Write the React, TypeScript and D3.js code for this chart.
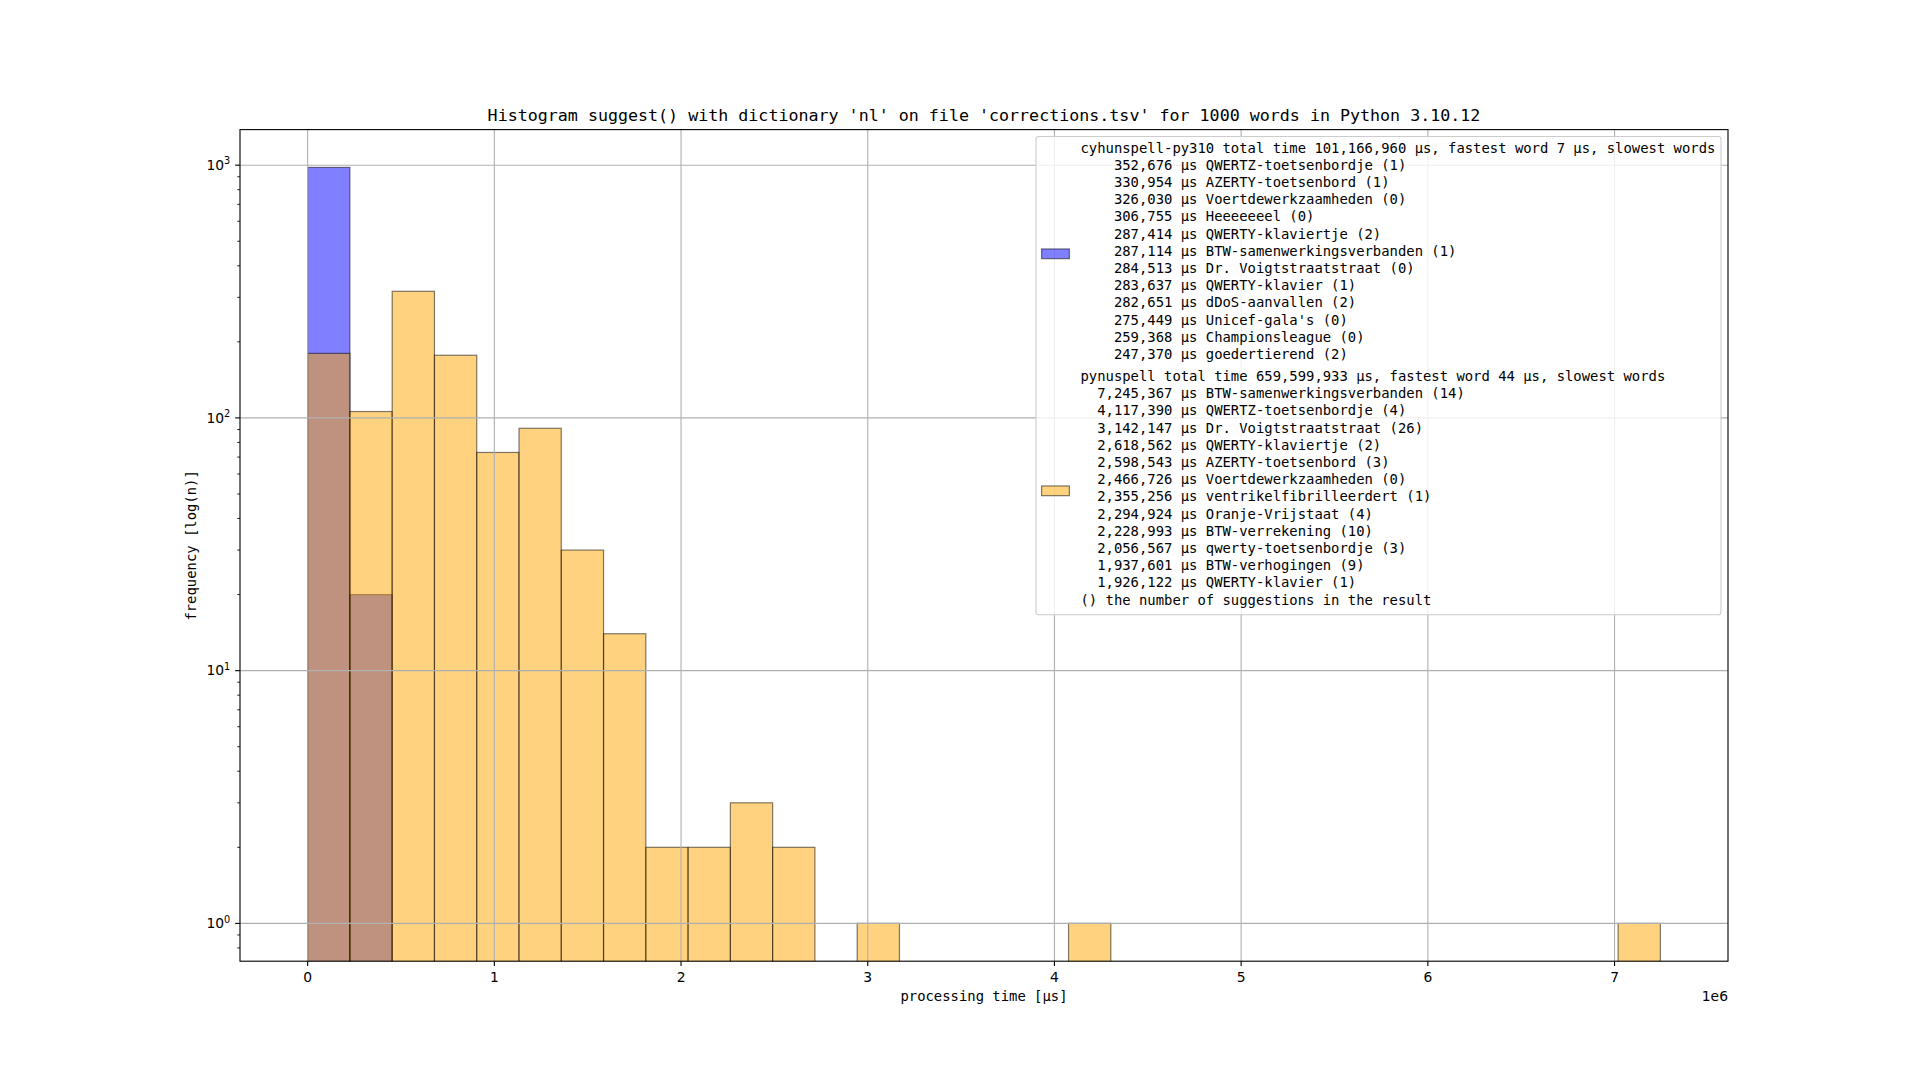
import React from "react";
import * as d3 from "d3";

// ---- data ----
const binCount = 32;
const dataMin = 7; // fastest word overall (µs)
const dataMax = 7245367; // slowest word overall (µs)
const cyhunspellCounts = [980, 20, 0, 0, 0, 0, 0, 0, 0, 0, 0, 0, 0, 0, 0, 0, 0, 0, 0, 0, 0, 0, 0, 0, 0, 0, 0, 0, 0, 0, 0, 0];
const pynuspellCounts = [180, 106, 317, 177, 73, 91, 30, 14, 2, 2, 3, 2, 0, 1, 0, 0, 0, 0, 1, 0, 0, 0, 0, 0, 0, 0, 0, 0, 0, 0, 0, 1];
const xTicks = [0, 1, 2, 3, 4, 5, 6, 7];
const yTickExps = [0, 1, 2, 3];

const titleText = "Histogram suggest() with dictionary 'nl' on file 'corrections.tsv' for 1000 words in Python 3.10.12";
const xLabel = "processing time [μs]";
const yLabel = "frequency [log(n)]";

const cyLegend = [
  "cyhunspell-py310 total time 101,166,960 μs, fastest word 7 μs, slowest words",
  "    352,676 μs QWERTZ-toetsenbordje (1)",
  "    330,954 μs AZERTY-toetsenbord (1)",
  "    326,030 μs Voertdewerkzaamheden (0)",
  "    306,755 μs Heeeeeeel (0)",
  "    287,414 μs QWERTY-klaviertje (2)",
  "    287,114 μs BTW-samenwerkingsverbanden (1)",
  "    284,513 μs Dr. Voigtstraatstraat (0)",
  "    283,637 μs QWERTY-klavier (1)",
  "    282,651 μs dDoS-aanvallen (2)",
  "    275,449 μs Unicef-gala's (0)",
  "    259,368 μs Championsleague (0)",
  "    247,370 μs goedertierend (2)",
];
const pyLegend = [
  "pynuspell total time 659,599,933 μs, fastest word 44 μs, slowest words",
  "  7,245,367 μs BTW-samenwerkingsverbanden (14)",
  "  4,117,390 μs QWERTZ-toetsenbordje (4)",
  "  3,142,147 μs Dr. Voigtstraatstraat (26)",
  "  2,618,562 μs QWERTY-klaviertje (2)",
  "  2,598,543 μs AZERTY-toetsenbord (3)",
  "  2,466,726 μs Voertdewerkzaamheden (0)",
  "  2,355,256 μs ventrikelfibrilleerdert (1)",
  "  2,294,924 μs Oranje-Vrijstaat (4)",
  "  2,228,993 μs BTW-verrekening (10)",
  "  2,056,567 μs qwerty-toetsenbordje (3)",
  "  1,937,601 μs BTW-verhogingen (9)",
  "  1,926,122 μs QWERTY-klavier (1)",
  "() the number of suggestions in the result",
];

// ---- layout ----
const W = 1920;
const H = 1080;
const L = 240;
const R = 1728;
const T = 129.6;
const B = 961.2;
const MONO = "'DejaVu Sans Mono', monospace";
const SANS = "'DejaVu Sans', sans-serif";
const FS = 13.89;

export default function App() {
  const edges = d3.range(binCount + 1).map((i) => dataMin + (i * (dataMax - dataMin)) / binCount);
  const span = dataMax - dataMin;
  const x = d3.scaleLinear().domain([dataMin - 0.05 * span, dataMax + 0.05 * span]).range([L, R]);

  const allCounts = [...cyhunspellCounts, ...pynuspellCounts].filter((c) => c > 0);
  const lo = Math.log10(d3.min(allCounts) as number);
  const hi = Math.log10(d3.max(allCounts) as number);
  const m = 0.05 * (hi - lo);
  const y = d3.scaleLog().domain([10 ** (lo - m), 10 ** (hi + m)]).range([B, T]);

  const minorTicks: number[] = [];
  for (let e = -1; e <= 3; e++) {
    for (let k = 2; k <= 9; k++) {
      const v = k * 10 ** e;
      if (v >= y.domain()[0] && v <= y.domain()[1]) minorTicks.push(v);
    }
  }

  const bars = (counts: number[], fill: string) =>
    counts.map((c, i) =>
      c > 0 ? (
        <rect
          key={i}
          x={x(edges[i])}
          y={y(c)}
          width={x(edges[i + 1]) - x(edges[i])}
          height={B + 5 - y(c)}
          fill={fill}
          fillOpacity={0.5}
          stroke="#000"
          strokeOpacity={0.5}
          strokeWidth={1.2}
        />
      ) : null
    );

  // legend
  const legTop = 136.5;
  const legLeft = 1036;
  const legRight = 1721;
  const lineH = 17.2;
  const blk1First = 152.6;
  const blk2First = blk1First + (cyLegend.length - 1) * lineH + 22;
  const legBottom = 614.7;
  const textX = 1080.5;
  const blk1Center = blk1First - 5 + ((cyLegend.length - 1) * lineH) / 2;
  const blk2Center = blk2First - 5 + ((pyLegend.length - 1) * lineH) / 2;

  return (
    <svg width={W} height={H} style={{ position: "absolute", left: 0, top: 0, background: "#fff" }}>
      <defs>
        <clipPath id="plot">
          <rect x={L} y={T} width={R - L} height={B - T} />
        </clipPath>
      </defs>
      <rect x={0} y={0} width={W} height={H} fill="#fff" />
      <g clipPath="url(#plot)">
        {bars(cyhunspellCounts, "#0000ff")}
        {bars(pynuspellCounts, "#ffa500")}
        {xTicks.map((t) => (
          <line key={"gx" + t} x1={x(t * 1e6)} x2={x(t * 1e6)} y1={T} y2={B} stroke="#b0b0b0" strokeWidth={1.11} />
        ))}
        {yTickExps.map((e) => (
          <line key={"gy" + e} x1={L} x2={R} y1={y(10 ** e)} y2={y(10 ** e)} stroke="#b0b0b0" strokeWidth={1.11} />
        ))}
      </g>
      {/* spines */}
      <rect x={L} y={T} width={R - L} height={B - T} fill="none" stroke="#000" strokeWidth={1.11} />
      {/* x ticks */}
      {xTicks.map((t) => (
        <g key={"xt" + t}>
          <line x1={x(t * 1e6)} x2={x(t * 1e6)} y1={B} y2={B + 4.86} stroke="#000" strokeWidth={1.11} />
          <text x={x(t * 1e6)} y={981.5} textAnchor="middle" fontFamily={SANS} fontSize={FS} fill="#000">
            {t}
          </text>
        </g>
      ))}
      <text x={R} y={1001} textAnchor="end" fontFamily={SANS} fontSize={FS} fill="#000">
        1e6
      </text>
      {/* y ticks */}
      {yTickExps.map((e) => (
        <g key={"yt" + e}>
          <line x1={L - 4.86} x2={L} y1={y(10 ** e)} y2={y(10 ** e)} stroke="#000" strokeWidth={1.11} />
          <text x={230.3} y={y(10 ** e) + 4.8} textAnchor="end" fontFamily={SANS} fontSize={FS} fill="#000">
            10
            <tspan fontSize={FS * 0.7} dy={-5.5}>
              {e}
            </tspan>
          </text>
        </g>
      ))}
      {minorTicks.map((v, i) => (
        <line key={"mt" + i} x1={L - 2.78} x2={L} y1={y(v)} y2={y(v)} stroke="#000" strokeWidth={0.83} />
      ))}
      {/* labels */}
      <text x={(L + R) / 2} y={1001} textAnchor="middle" fontFamily={MONO} fontSize={FS} fill="#000">
        {xLabel}
      </text>
      <text
        transform={`translate(196,${(T + B) / 2}) rotate(-90)`}
        textAnchor="middle"
        fontFamily={MONO}
        fontSize={FS}
        fill="#000"
      >
        {yLabel}
      </text>
      <text x={(L + R) / 2} y={121.3} textAnchor="middle" fontFamily={MONO} fontSize={16.67} fill="#000">
        {titleText}
      </text>
      {/* legend */}
      <rect
        x={legLeft}
        y={legTop}
        width={legRight - legLeft}
        height={legBottom - legTop}
        rx={2.8}
        ry={2.8}
        fill="#fff"
        fillOpacity={0.8}
        stroke="#cccccc"
        strokeWidth={1.1}
      />
      <rect x={1041.6} y={blk1Center + 3 - 4.86} width={27.8} height={9.72} fill="#0000ff" fillOpacity={0.5} stroke="#000" strokeOpacity={0.5} strokeWidth={1.2} />
      <rect x={1041.6} y={blk2Center + 3 - 4.86} width={27.8} height={9.72} fill="#ffa500" fillOpacity={0.5} stroke="#000" strokeOpacity={0.5} strokeWidth={1.2} />
      {cyLegend.map((s, i) => (
        <text key={"c" + i} x={textX} y={blk1First + i * lineH} fontFamily={MONO} fontSize={FS} fill="#000" xmlSpace="preserve" style={{ whiteSpace: "pre" }}>
          {s}
        </text>
      ))}
      {pyLegend.map((s, i) => (
        <text key={"p" + i} x={textX} y={blk2First + i * lineH} fontFamily={MONO} fontSize={FS} fill="#000" xmlSpace="preserve" style={{ whiteSpace: "pre" }}>
          {s}
        </text>
      ))}
    </svg>
  );
}
